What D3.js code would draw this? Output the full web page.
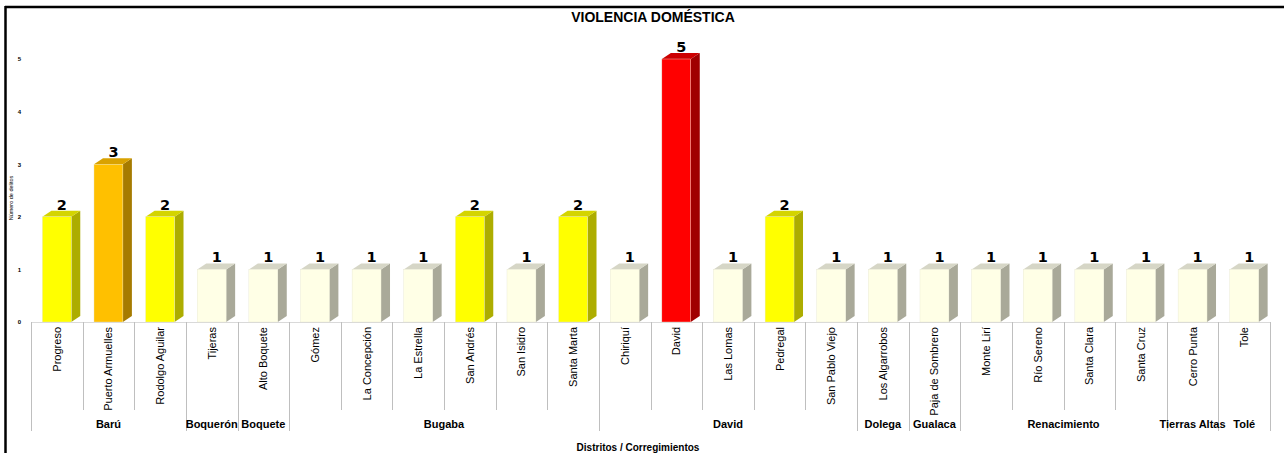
<!DOCTYPE html>
<html>
<head>
<meta charset="utf-8">
<script src="https://cdn.jsdelivr.net/npm/d3@7"></script>
<style>
  body { margin: 0; background: #fff; }
  svg { display: block; font-family: "Liberation Sans", Arial, sans-serif; }
</style>
</head>
<body>
<figure id="bar" style="margin:0"></figure>
<script>
// data
const corregimientos = ["Progreso", "Puerto Armuelles", "Rodolgo Aguilar", "Tijeras", "Alto Boquete",
  "Gómez", "La Concepción", "La Estrella", "San Andrés", "San Isidro", "Santa Marta",
  "Chiriquí", "David", "Las Lomas", "Pedregal", "San Pablo Viejo",
  "Los Algarrobos", "Paja de Sombrero", "Monte Lirí", "Río Sereno", "Santa Clara", "Santa Cruz",
  "Cerro Punta", "Tole"];
const delitos = [2, 3, 2, 1, 1, 1, 1, 1, 2, 1, 2, 1, 5, 1, 2, 1, 1, 1, 1, 1, 1, 1, 1, 1];
const distritos = ["Barú", "Boquerón", "Boquete", "Bugaba", "David", "Dolega", "Gualaca", "Renacimiento", "Tierras Altas", "Tolé"];
const corregPorDistrito = [3, 1, 1, 6, 5, 1, 1, 4, 1, 1];
const yTicks = [0, 1, 2, 3, 4, 5];

const width = 1284, height = 453;
const baseY = 322, topY = 59;
const depthX = 9, depthY = 6;

const svg = d3.select("figure#bar")
  .append("svg")
  .attr("width", width)
  .attr("height", height);

// frame
svg.append("line").attr("x1", 5).attr("x2", width).attr("y1", 7).attr("y2", 7)
  .attr("stroke", "#000").attr("stroke-width", 2.5);
svg.append("line").attr("x1", 5.5).attr("x2", 5.5).attr("y1", 6).attr("y2", height)
  .attr("stroke", "#000").attr("stroke-width", 2.5);

// title
svg.append("text")
  .attr("x", 653).attr("y", 22)
  .attr("text-anchor", "middle")
  .style("font-size", "14px").style("font-weight", "bold")
  .text("VIOLENCIA DOMÉSTICA");

const x = d3.scaleBand()
  .domain(corregimientos)
  .range([31, 1270]);

const y = d3.scaleLinear()
  .domain([0, 5])
  .range([baseY, topY]);

// colours by count
const colorFront = d3.scaleOrdinal().domain([1, 2, 3, 5]).range(["#ffffe6", "#ffff00", "#ffc000", "#ff0000"]);
const colorTop = d3.scaleOrdinal().domain([1, 2, 3, 5]).range(["#d6d6c6", "#d4d400", "#d9a200", "#cc0000"]);
const colorSide = d3.scaleOrdinal().domain([1, 2, 3, 5]).range(["#a9a999", "#adad00", "#a67b00", "#a00000"]);

// y axis labels
const yAxis = svg.append("g").attr("transform", "translate(24,0)")
  .call(d3.axisLeft(y).tickValues(yTicks).tickSize(0).tickFormat(d3.format("d")));
yAxis.select(".domain").remove();
yAxis.selectAll("text").style("font-size", "6px").style("font-weight", "bold").attr("dx", 0);

svg.append("text")
  .attr("transform", "translate(13,198) rotate(-90)")
  .attr("text-anchor", "middle")
  .style("font-size", "5.5px")
  .text("Número de delitos");

// horizontal axis line
svg.append("line").attr("x1", 31).attr("x2", 1270).attr("y1", baseY + 0.5).attr("y2", baseY + 0.5)
  .attr("stroke", "#d9d9d9");

const data = corregimientos.map((c, i) => ({ name: c, value: delitos[i] }));
const bw = x.bandwidth();
const fw = bw * 0.56;
const off = bw * 0.22;

const bars = svg.selectAll(".bar")
  .data(data)
  .enter()
  .append("g")
  .attr("class", "bar");

// side face
bars.append("path")
  .attr("d", d => {
    const x0 = x(d.name) + off + fw, y0 = y(d.value);
    return `M${x0},${y0}L${x0 + depthX},${y0 - depthY}L${x0 + depthX},${baseY - depthY}L${x0},${baseY}Z`;
  })
  .attr("fill", d => colorSide(d.value));

// top face
bars.append("path")
  .attr("d", d => {
    const x0 = x(d.name) + off, y0 = y(d.value);
    return `M${x0},${y0}L${x0 + depthX},${y0 - depthY}L${x0 + fw + depthX},${y0 - depthY}L${x0 + fw},${y0}Z`;
  })
  .attr("fill", d => colorTop(d.value));

// front face
bars.append("rect")
  .attr("x", d => x(d.name) + off)
  .attr("y", d => y(d.value))
  .attr("width", fw)
  .attr("height", d => baseY - y(d.value))
  .attr("fill", d => colorFront(d.value))
  .attr("stroke", "#e6e6d0")
  .attr("stroke-width", 0.4);

// value labels
bars.append("text")
  .attr("x", d => x(d.name) + off + fw / 2 + 5)
  .attr("y", d => y(d.value) - depthY - 1)
  .attr("text-anchor", "middle")
  .style("font-family", "'DejaVu Sans', Verdana, sans-serif")
  .style("font-size", "14.5px")
  .style("font-weight", "bold")
  .text(d => d.value);

// category labels
svg.append("g").selectAll("text")
  .data(corregimientos)
  .enter()
  .append("text")
  .attr("transform", d => `translate(${x(d) + bw / 2 + 4},327) rotate(-90)`)
  .attr("text-anchor", "end")
  .style("font-size", "11px")
  .style("fill", "#000")
  .text(d => d);

// separators: inner and district boundaries
let acc = 0;
const bounds = [0];
corregPorDistrito.forEach(n => { acc += n; bounds.push(acc); });
const allEdges = d3.range(corregimientos.length + 1);
svg.append("g").selectAll("line")
  .data(allEdges)
  .enter()
  .append("line")
  .attr("x1", i => Math.round(i < corregimientos.length ? x(corregimientos[i]) : x.range()[1]) + 0.5)
  .attr("x2", i => Math.round(i < corregimientos.length ? x(corregimientos[i]) : x.range()[1]) + 0.5)
  .attr("y1", baseY)
  .attr("y2", i => bounds.includes(i) ? 431 : 410)
  .attr("stroke", "#bfbfbf")
  .attr("stroke-width", 1);

// district labels
svg.append("g").selectAll("text")
  .data(distritos)
  .enter()
  .append("text")
  .attr("x", (d, i) => {
    const a = x(corregimientos[bounds[i]]);
    const b = bounds[i + 1] < corregimientos.length ? x(corregimientos[bounds[i + 1]]) : x.range()[1];
    return (a + b) / 2;
  })
  .attr("y", 428)
  .attr("text-anchor", "middle")
  .style("font-size", "11px")
  .style("font-weight", "bold")
  .text(d => d);

// x title
svg.append("text")
  .attr("x", 638).attr("y", 451)
  .attr("text-anchor", "middle")
  .style("font-size", "10px")
  .style("font-weight", "bold")
  .text("Distritos / Corregimientos");
</script>
</body>
</html>
